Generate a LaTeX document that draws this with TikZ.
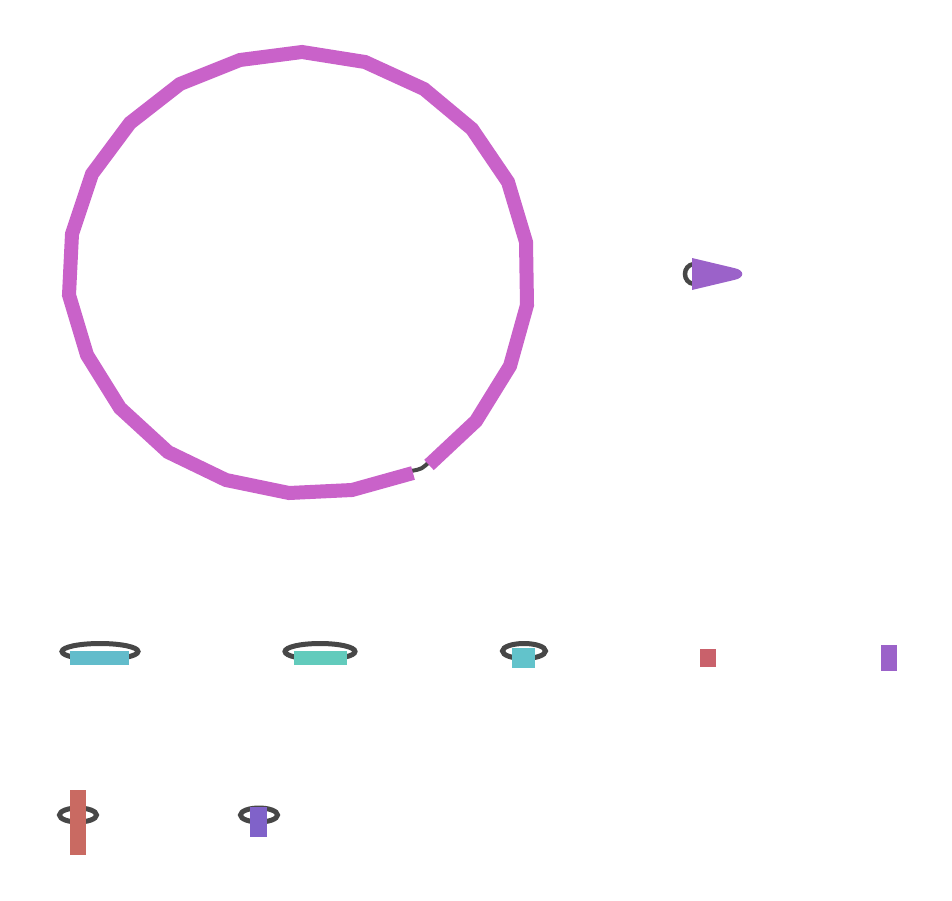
\documentclass[tikz,border=0pt]{standalone}
\usetikzlibrary{shapes.geometric}
\definecolor{orchid}{HTML}{C962C9}
\definecolor{violet1}{HTML}{9B62C9}
\definecolor{violet2}{HTML}{8062C9}
\definecolor{blue1}{HTML}{62BCCB}
\definecolor{teal1}{HTML}{62CBBC}
\definecolor{cyan1}{HTML}{62C3CB}
\definecolor{red1}{HTML}{C9616B}
\definecolor{red2}{HTML}{C96A62}
\definecolor{ring}{HTML}{474747}
\tikzset{
  ringshape/.style={ellipse, draw=ring, line width=5pt, inner sep=0pt},
  blockshape/.style={rectangle, draw=none, inner sep=0pt, outer sep=0pt},
}
\begin{document}
\begin{tikzpicture}[x=1pt,y=-1pt]
\useasboundingbox (0,0) rectangle (952,901);
% big loop
\draw[ring, line width=4pt] (411,471) .. controls (422,469) .. (430,461);
\draw[orchid, line width=14pt, line join=miter]
 (429,465) -- (476,421) -- (510,366) -- (527,305) -- (526,242) -- (508,182) -- (472,129) -- (424,89) -- (365,62) -- (302,52) -- (240,60) -- (180,84) -- (130,123) -- (92,174) -- (72,234) -- (69,295) -- (87,355) -- (120,408) -- (168,452) -- (226,480) -- (289,493) -- (352,490) -- (413,473);
% purple pointer
\draw[ring, line width=4.5pt] (694,264) .. controls (682,265) and (682,283) .. (694,284);
\fill[violet1] (692,258) -- (734,268) .. controls (745,270) and (745,278) .. (734,280) -- (692,290) -- cycle;
% row 1
\node[ringshape, minimum width=76pt, minimum height=16pt] (r1) at (100,651.5) {};
\node[blockshape, fill=blue1, minimum width=59pt, minimum height=14pt] (b1) at (99.5,658) {};
\node[ringshape, minimum width=70pt, minimum height=16pt] (r2) at (320,651.5) {};
\node[blockshape, fill=teal1, minimum width=53pt, minimum height=14pt] (b2) at (320.5,658) {};
\node[ringshape, minimum width=43pt, minimum height=15pt] (r3) at (524,651) {};
\node[blockshape, fill=cyan1, minimum width=23pt, minimum height=20pt] (b3) at (523.5,658) {};
\node[blockshape, fill=red1, minimum width=16pt, minimum height=18pt] (b4) at (708,658) {};
\node[blockshape, fill=violet1, minimum width=16pt, minimum height=26pt] (b5) at (889,658) {};
% row 2
\node[ringshape, minimum width=37pt, minimum height=14pt] (r6) at (78,815) {};
\node[blockshape, fill=red2, minimum width=16pt, minimum height=65pt] (b6) at (78,822.5) {};
\node[ringshape, minimum width=37pt, minimum height=14pt] (r7) at (259,815) {};
\node[blockshape, fill=violet2, minimum width=17pt, minimum height=30pt] (b7) at (258.5,822) {};
\end{tikzpicture}
\end{document}
